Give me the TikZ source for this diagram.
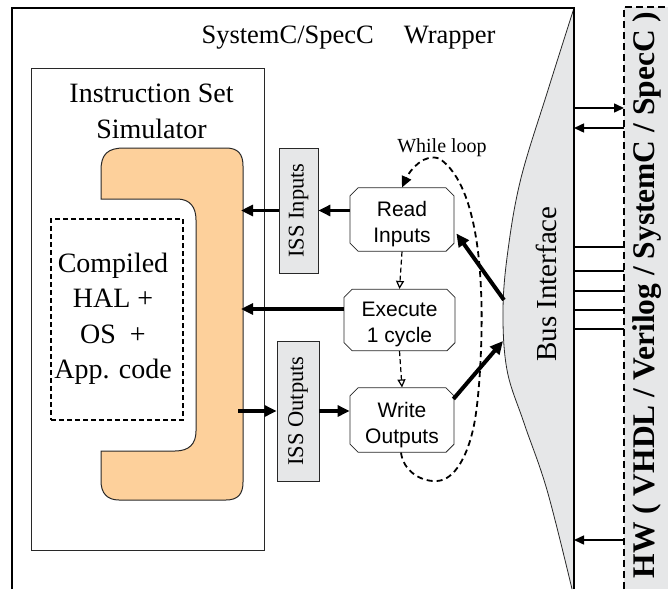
\documentclass[tikz,border=0pt]{standalone}
\usepackage{fontspec}
\setmainfont{Liberation Serif}
\newfontfamily\stagefont{Liberation Sans}
\usetikzlibrary{arrows.meta,shapes.misc,calc}

\definecolor{issorange}{RGB}{253,208,155}
\definecolor{panelgrey}{RGB}{230,231,232}
\definecolor{inkgrey}{RGB}{40,40,40}

\begin{document}
\begin{tikzpicture}[x=1pt,y=-1pt,
  thickarrow/.style={line width=3.5pt,-{Triangle[length=12pt,width=11pt]}},
  busarrow/.style={line width=1.5pt,-{Triangle[length=10pt,width=9pt]}},
  busline/.style={line width=2.4pt},
  stepflow/.style={line width=1.2pt,dash pattern=on 5pt off 3pt,-{Triangle[open,length=8pt,width=8pt]}},
  loopflow/.style={line width=1.8pt,dash pattern=on 6pt off 4pt,-{Triangle[length=11pt,width=10pt]}},
  stagebox/.style={chamfered rectangle,chamfered rectangle xsep=4pt,chamfered rectangle ysep=4pt,
    draw=inkgrey,line width=0.8pt,fill=white,align=center,inner sep=0pt,
    font=\stagefont\fontsize{21}{26}\selectfont},
  portbox/.style={draw=inkgrey,line width=0.8pt,fill=panelgrey,inner sep=0pt,
    font=\fontsize{22.5}{26}\selectfont},
  bigtext/.style={font=\fontsize{28}{35.5}\selectfont,align=center,inner sep=0pt},
]
\useasboundingbox (0,0) rectangle (668,589);

% hardware side panel
\fill[panelgrey] (624,7) rectangle (668,589);
\draw[line width=1.8pt,dash pattern=on 7pt off 4pt] (624,589) -- (624,7) -- (668,7);
\node[rotate=90,font=\bfseries\fontsize{31.5}{36}\selectfont] (hwlabel) at (647,295)
  {HW ( VHDL / Verilog / SystemC / SpecC )};

% bus interface
\fill[panelgrey] (574,8) -- plot[smooth,tension=0.6] coordinates
  {(574,8) (548,90) (521,178) (508,250) (503,310) (507,370) (524,423) (547,490) (572,589)}
  -- (574,589) -- cycle;
\draw[inkgrey,line width=0.8pt] plot[smooth,tension=0.6] coordinates
  {(574,8) (548,90) (521,178) (508,250) (503,310) (507,370) (524,423) (547,490) (572,589)};
\node[rotate=90,font=\fontsize{29}{34}\selectfont] (buslabel) at (546,284) {Bus Interface};

% wrapper outline and bus line
\draw[line width=2.5pt] (12,589) -- (12,8) -- (575,8);
\draw[line width=1.4pt] (574,8) -- (574,589);
\node[anchor=base,font=\fontsize{26.5}{32}\selectfont,inner sep=0pt] (wraptitle) at (348.5,43)
  {SystemC/SpecC\hspace{30pt}Wrapper};

% bus to hardware signals
\coordinate (busline) at (574,0);
\coordinate (hwedge) at (624,0);
\draw[busarrow] (busline |- 0,108) -- (hwedge |- 0,108);
\draw[busarrow] (hwedge |- 0,128) -- (busline |- 0,128);
\foreach \yy in {247,271,291,310,329}
  \draw[busline] (busline |- 0,\yy) -- (hwedge |- 0,\yy);
\draw[busarrow] (hwedge |- 0,540) -- (busline |- 0,540);

% instruction set simulator
\node[draw=inkgrey,line width=0.9pt,minimum width=233pt,minimum height=482pt,inner sep=0pt]
  (iss) at (147.5,309) {};
\node[bigtext] (isstitle) at (151.5,111.3) {Instruction Set\\Simulator};

% simulator core
\filldraw[fill=issorange,draw=inkgrey,line width=1pt]
  (101,170) .. controls (101,154) and (108,148) .. (124,148)
  -- (226,148) .. controls (238,148) and (243,154) .. (243,166)
  -- (243,482) .. controls (243,494) and (238,500) .. (226,500)
  -- (119,500) .. controls (107,500) and (101,493) .. (101,481)
  -- (101,451) -- (175,451) .. controls (189,451) and (196,444) .. (196,431)
  -- (196,220) .. controls (196,207) and (190,199) .. (177,199)
  -- (101,199) -- cycle;
\coordinate (coreedge) at (241,0);

\node[draw,line width=1.8pt,dash pattern=on 5pt off 3pt,minimum width=132pt,minimum height=201pt,inner sep=0pt]
  (appbox) at (117,319.5) {};
\node[bigtext] (apptext) at (113,318.8) {Compiled\\HAL +\\OS\ \ +\\App. code};

% ISS ports
\node[portbox,minimum width=39pt,minimum height=125pt] (issin) at (298.5,210.5)
  {\rotatebox{90}{ISS Inputs}};
\node[portbox,minimum width=42pt,minimum height=140pt] (issout) at (298,411)
  {\rotatebox{90}{ISS Outputs}};

% loop stages
\node[stagebox,minimum width=104pt,minimum height=59pt] (read) at (402,219.5)
  {\rule{0pt}{25pt}Read\\Inputs};
\node[stagebox,minimum width=111pt,minimum height=60pt] (exec) at (399.5,320)
  {\rule{0pt}{23pt}Execute\\1 cycle};
\node[stagebox,minimum width=104pt,minimum height=62pt] (write) at (402,420)
  {\rule{0pt}{26pt}Write\\Outputs};

% data flow
\draw[thickarrow] (read.west |- issin.east) -- (issin.east);
\draw[thickarrow] (issin.west) -- (coreedge |- issin.west);
\draw[thickarrow] ($(exec.west)+(0,-11)$) -- (coreedge |- 0,309);
\draw[thickarrow] (238,411) -- (issout.west);
\draw[thickarrow] (issout.east) -- (write.west |- issout.east);

\coordinate (busin) at (504,300);
\coordinate (busout) at (503,341);
\draw[line width=4pt,-{Triangle[length=13pt,width=12pt]}] (busin) -- ($(read.east)+(2,14)$);
\draw[line width=4pt,-{Triangle[length=13pt,width=12pt]}] ($(write.east)+(-1,-21)$) -- (busout);

% control flow
\draw[stepflow] (read.south) -- (exec.north);
\draw[stepflow] (exec.south) -- (write.north);
\draw[loopflow] ($(write.south)+(-1,0)$) .. controls (403,470) and (420,482) .. (437,481)
  .. controls (455,480) and (468,455) .. (474,425)
  .. controls (480,395) and (483,330) .. (481,290)
  .. controls (479,240) and (470,180) .. (440,159)
  .. controls (425,152) and (410,170) .. (read.north);
\node[anchor=base,font=\fontsize{20}{24}\selectfont,inner sep=0pt] (looplabel) at (442,152) {While loop};

\end{tikzpicture}
\end{document}
